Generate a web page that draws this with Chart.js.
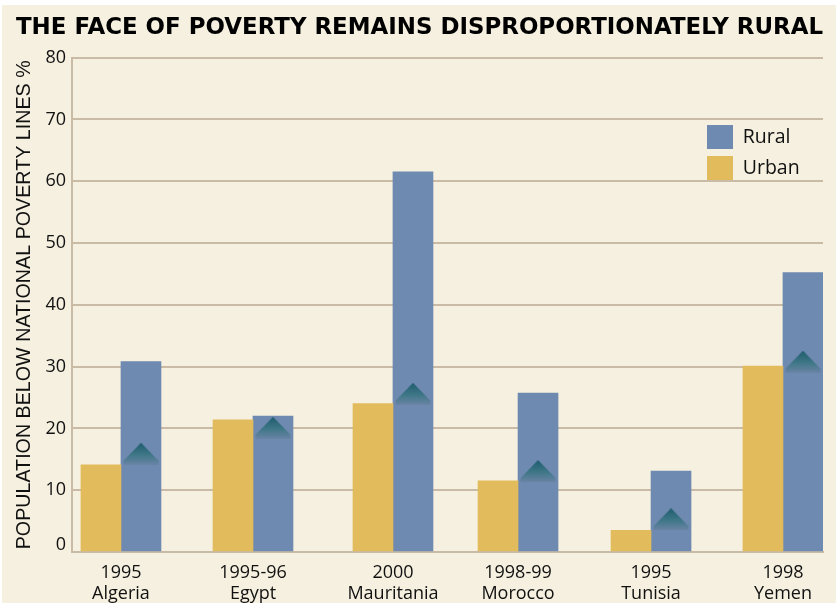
<!DOCTYPE html>
<html>
<head>
<meta charset="utf-8">
<script src="https://cdn.jsdelivr.net/npm/chart.js@4"></script>
<style>
html,body{margin:0;padding:0;background:#fff;overflow:hidden}
#panel{position:absolute;left:2px;top:5px;width:834px;height:598px;background:#f5f0df}
canvas{position:absolute;left:0;top:0}
</style>
</head>
<body>
<div id="panel"></div>
<canvas id="c" width="836" height="604"></canvas>
<script>
const years = ['1995', '1995-96', '2000', '1998-99', '1995', '1998'];
const countries = ['Algeria', 'Egypt', 'Mauritania', 'Morocco', 'Tunisia', 'Yemen'];
const urban = [14.1, 21.4, 24, 11.5, 3.5, 30.1];
const rural = [30.8, 22, 61.5, 25.7, 13.1, 45.2];
const markers = [15.9, 20.1, 25.6, 13.1, 5.3, 30.8];
const yTicks = [0, 10, 20, 30, 40, 50, 60, 70, 80];

const RURAL = '#6f8ab0', URBAN = '#e2bb5d', GRID = '#c9bba6', INK = '#111111';
const BODY = '"Open Sans", sans-serif';

// The groups in the source are not evenly spaced: share of the axis width per group.
const groupShare = [0.0652, 0.2410, 0.4274, 0.5939, 0.7710, 0.9467];
class GroupedCategoryScale extends Chart.CategoryScale {
  getPixelForValue(value, index) {
    const i = (index !== undefined && index !== null) ? index : Math.round(value);
    const k = Math.max(0, Math.min(groupShare.length - 1, Math.round(Number.isFinite(value) ? value : i)));
    return this.left + groupShare[k] * this.width;
  }
}
GroupedCategoryScale.id = 'groupedCategory';
GroupedCategoryScale.defaults = Chart.CategoryScale.defaults;
Chart.register(GroupedCategoryScale);

function markerSprite() {
  const w = 120, h = 22, half = 17.5, cx = 60 + 20;
  const cv = document.createElement('canvas');
  cv.width = w; cv.height = h;
  const g = cv.getContext('2d');
  const grad = g.createLinearGradient(0, 0, 0, h);
  grad.addColorStop(0, '#1f5d6e');
  grad.addColorStop(0.55, '#3f7787');
  grad.addColorStop(1, '#6a84a6');
  g.fillStyle = grad;
  g.beginPath();
  g.moveTo(cx, 0);
  g.lineTo(cx + half, h * 0.82);
  g.lineTo(cx + half, h);
  g.lineTo(cx - half, h);
  g.lineTo(cx - half, h * 0.82);
  g.closePath();
  g.fill();
  return cv;
}

const placeBlocks = {
  id: 'placeBlocks',
  afterLayout(chart) {
    const l = chart.legend;
    const w = l.width, h = l.height;
    l.left = 700; l.top = 118; l.right = 700 + w; l.bottom = 118 + h;
    l.adjustHitBoxes();
    chart.titleBlock.left = 16;
  }
};

new Chart(document.getElementById('c'), {
  type: 'bar',
  plugins: [placeBlocks],
  data: {
    labels: countries,
    datasets: [
      { type: 'line', label: 'marker', data: markers, showLine: false, pointStyle: markerSprite(), pointRadius: 10, order: 0 },
      { label: 'Urban', data: urban, backgroundColor: URBAN, barThickness: 40, order: 1 },
      { label: 'Rural', data: rural, backgroundColor: RURAL, barThickness: 40, order: 1 }
    ]
  },
  options: {
    responsive: false,
    animation: false,
    events: [],
    layout: { padding: { top: 8, right: 13, left: 0, bottom: 0 } },
    plugins: {
      tooltip: { enabled: false },
      title: {
        display: true,
        text: 'THE FACE OF POVERTY REMAINS DISPROPORTIONATELY RURAL',
        align: 'start',
        color: '#000',
        font: { family: '"DejaVu Sans", sans-serif', size: 23, weight: '900', lineHeight: 1.2 },
        padding: { top: 6, bottom: 16 }
      },
      legend: {
        position: 'chartArea',
        reverse: true,
        align: 'start',
        labels: {
          boxWidth: 26,
          boxHeight: 24,
          padding: 7,
          color: INK,
          font: { family: BODY, size: 19.5 },
          filter: item => item.text !== 'marker'
        }
      }
    },
    scales: {
      x: {
        type: 'groupedCategory',
        grid: { display: false },
        border: { color: GRID, width: 2 },
        afterFit: s => { s.height = 52; },
        ticks: {
          color: INK,
          maxRotation: 0,
          autoSkip: false,
          padding: 2,
          font: { family: BODY, size: 18, lineHeight: 1.17 },
          callback: (v, i) => [years[i], countries[i]]
        }
      },
      y: {
        min: 0,
        max: 80,
        afterBuildTicks: s => { s.ticks = yTicks.map(value => ({ value })); },
        afterFit: s => { s.width = 72; },
        grid: { color: GRID, lineWidth: 2, drawTicks: false },
        border: { color: GRID, width: 2 },
        title: {
          display: true,
          text: 'POPULATION BELOW NATIONAL POVERTY LINES %',
          color: INK,
          font: { family: '"Liberation Sans", sans-serif', size: 19.7 },
          padding: { top: 13, bottom: 0 }
        },
        ticks: {
          color: INK,
          padding: 6,
          font: c => ({ family: BODY, size: 18, lineHeight: c.tick && c.tick.value === 0 ? 14 / 18 : 1.2 }),
          callback: v => v === 0 ? ['0', ''] : String(v)
        }
      }
    }
  }
});
</script>
</body>
</html>
